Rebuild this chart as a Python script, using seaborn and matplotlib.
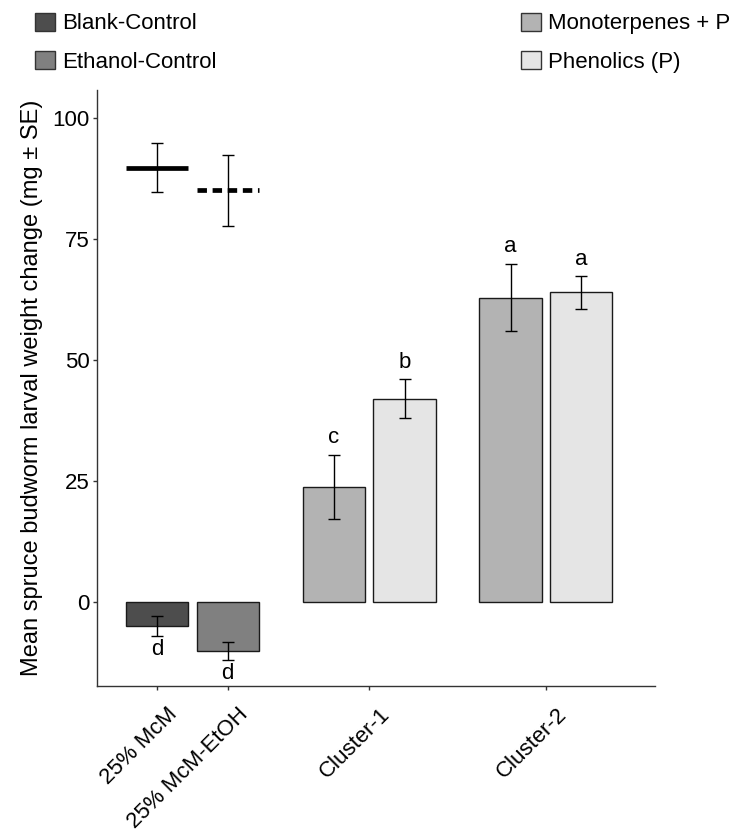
import numpy as np
import pandas as pd
import matplotlib
matplotlib.use("Agg")
import matplotlib.pyplot as plt
from matplotlib.patches import Patch
from matplotlib.transforms import ScaledTranslation
import seaborn as sns

# values
groups = ["25% McM", "25% McM-EtOH", "Cluster-1", "Cluster-1", "Cluster-2", "Cluster-2"]
treatments = ["Blank-Control", "Ethanol-Control", "Monoterpenes + P",
              "Phenolics (P)", "Monoterpenes + P", "Phenolics (P)"]
means = [-5.0, -10.2, 23.8, 42.0, 62.9, 64.0]
se = [2.1, 1.9, 6.6, 4.0, 7.0, 3.4]
letters = ["d", "d", "c", "b", "a", "a"]

# control reference lines (drawn above the control bars)
ref_means = [89.8, 85.1]
ref_se = [5.1, 7.35]

tick_labels = ["25% McM", "25% McM-EtOH", "Cluster-1", "Cluster-2"]
legend_left = ["Blank-Control", "Ethanol-Control"]
legend_right = ["Monoterpenes + P", "Phenolics (P)"]

colors = {
    "Blank-Control": "#4d4d4d",
    "Ethanol-Control": "#808080",
    "Monoterpenes + P": "#b3b3b3",
    "Phenolics (P)": "#e5e5e5",
}

# layout: group centres on the x axis and dodge offsets
group_centre = {"25% McM": 0.0, "25% McM-EtOH": 1.0, "Cluster-1": 3.0, "Cluster-2": 5.5}
dodge = [0.0, 0.0, -0.5, 0.5, -0.5, 0.5]
bar_w = 0.88

df = pd.DataFrame({"group": groups, "treatment": treatments, "mean": means, "se": se})
df["pos"] = [group_centre[g] + d for g, d in zip(groups, dodge)]

sns.set_style("white")
plt.rcParams["font.family"] = ["Liberation Sans", "DejaVu Sans"]
plt.rcParams["text.color"] = "black"
plt.rcParams["axes.labelcolor"] = "black"

fig, ax = plt.subplots(figsize=(7.51, 8.38), dpi=100)
fig.subplots_adjust(left=0.129, right=0.872, top=0.893, bottom=0.181)

sns.barplot(
    data=df, x="pos", y="mean", hue="treatment", palette=colors,
    native_scale=True, width=bar_w, errorbar=None, edgecolor="#1a1a1a",
    linewidth=1.0, legend=False, ax=ax,
)

ax.errorbar(df["pos"], df["mean"], yerr=df["se"], fmt="none", ecolor="black",
            elinewidth=1.0, capsize=4.5, capthick=1.0)

# significance letters
for p, m, s, lab in zip(df["pos"], df["mean"], df["se"], letters):
    if m < 0:
        ax.text(p, m - s - 0.6, lab, ha="center", va="top", fontsize=16)
    else:
        ax.text(p, m + s + 1.3, lab, ha="center", va="bottom", fontsize=16)

# control reference means
ref_pos = df["pos"].iloc[:2].to_numpy()
ax.hlines(ref_means[0], ref_pos[0] - bar_w / 2, ref_pos[0] + bar_w / 2,
          color="black", linewidth=3.4)
ax.hlines(ref_means[1], ref_pos[1] - bar_w / 2, ref_pos[1] + bar_w / 2,
          color="black", linewidth=3.4, linestyles=(0, (2.0, 1.2)))
ax.errorbar(ref_pos, ref_means, yerr=ref_se, fmt="none", ecolor="black",
            elinewidth=1.0, capsize=4.5, capthick=1.0)

ax.set_xlim(-0.85, 7.04)
ax.set_ylim(-17.5, 105.9)
ax.set_yticks([0, 25, 50, 75, 100])
ax.set_xticks(list(group_centre.values()))
ax.set_xticklabels(tick_labels, rotation=45, ha="right", va="top",
                   rotation_mode="anchor", fontsize=16)
ax.tick_params(axis="y", labelsize=16, pad=2)
ax.tick_params(axis="x", pad=4)
ax.tick_params(axis="both", direction="out", length=3, width=1.0,
               color="#333333", labelcolor="black", left=True, bottom=True)
shift = ScaledTranslation(10 / 100, -8 / 100, fig.dpi_scale_trans)
for lab in ax.get_xticklabels():
    lab.set_transform(lab.get_transform() + shift)
ax.set_xlabel("")
ax.set_ylabel("Mean spruce budworm larval weight change (mg ± SE)", fontsize=17, labelpad=7)

sns.despine(ax=ax)
for side in ["left", "bottom"]:
    ax.spines[side].set_color("#333333")
    ax.spines[side].set_linewidth(1.0)

def handles(names):
    return [Patch(facecolor=colors[n], edgecolor="#333333", linewidth=1.0) for n in names]

leg_kw = dict(frameon=False, fontsize=16, handlelength=0.9, handleheight=0.9,
              handletextpad=0.3, labelspacing=0.73, borderpad=0, borderaxespad=0,
              loc="upper left", labelcolor="black")
leg1 = fig.legend(handles(legend_left), legend_left, bbox_to_anchor=(0.047, 0.985), **leg_kw)
leg2 = fig.legend(handles(legend_right), legend_right, bbox_to_anchor=(0.694, 0.985), **leg_kw)

fig.savefig("out.png", dpi=100)
